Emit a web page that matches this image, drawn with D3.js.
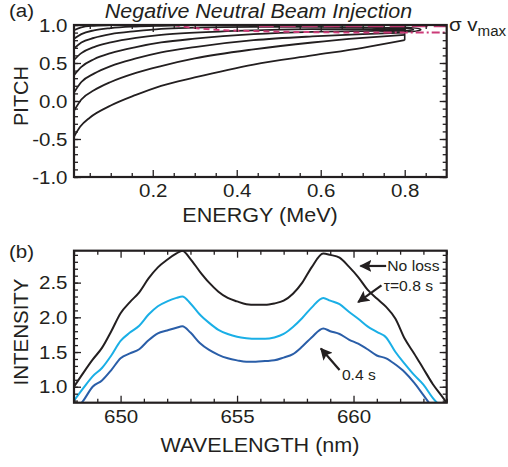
<!DOCTYPE html>
<html><head><meta charset="utf-8">
<script src="https://cdn.jsdelivr.net/npm/d3@7"></script>
<style>
body{margin:0;background:#fff}
text{font-family:"Liberation Sans",Arial,Helvetica,sans-serif;fill:#231f20}
</style>
</head><body><svg id="c" width="508" height="467"></svg>
<script>
// ---------- Panel (a) data: contours of the fast-ion distribution (energy MeV, pitch) ----------
const contour1 = [[0.0125,-0.47],[0.027,-0.34],[0.05,-0.22],[0.1,-0.06],[0.16,0.08],[0.22,0.2],[0.3,0.31],[0.44,0.48],[0.58,0.6],[0.7,0.7],[0.8,0.8]];
const contour2 = [[0.0125,-0.13],[0.03,0.02],[0.06,0.14],[0.1,0.25],[0.16,0.37],[0.22,0.46],[0.3,0.56],[0.44,0.68],[0.58,0.77],[0.7,0.83],[0.8,0.87]];
const contour3 = [[0.0125,0.11],[0.03,0.25],[0.06,0.36],[0.1,0.46],[0.16,0.56],[0.22,0.64],[0.3,0.71],[0.44,0.8],[0.58,0.85],[0.7,0.88],[0.8,0.9]];
const contour4 = [[0.0125,0.34],[0.03,0.45],[0.06,0.55],[0.1,0.63],[0.16,0.71],[0.22,0.77],[0.3,0.82],[0.44,0.88],[0.58,0.91],[0.7,0.92],[0.8,0.925]];
const contour5 = [[0.0125,0.54],[0.03,0.63],[0.06,0.71],[0.1,0.77],[0.16,0.83],[0.22,0.87],[0.3,0.9],[0.44,0.93],[0.58,0.945],[0.7,0.945],[0.8,0.94]];
const contour6 = [[0.0125,0.69],[0.03,0.77],[0.06,0.83],[0.1,0.88],[0.16,0.92],[0.22,0.95],[0.3,0.965],[0.44,0.975],[0.58,0.975],[0.7,0.97],[0.8,0.955]];
const contour7 = [[0.0125,0.82],[0.03,0.88],[0.06,0.93],[0.1,0.96],[0.16,0.98],[0.22,0.99],[0.3,1.0]];
const contour8 = [[0.0125,0.93],[0.03,0.97],[0.06,0.99],[0.1,1.0]];
const injectionEdge = [[0.8,0.8],[0.8,1.0]];
const peakLoop1 = [[0.725,0.945],[0.76,0.965],[0.8,0.97],[0.83,0.955],[0.838,0.935],[0.82,0.915],[0.78,0.91],[0.74,0.925]];
const peakLoop2 = [[0.765,0.945],[0.79,0.958],[0.815,0.95],[0.82,0.935],[0.8,0.925],[0.775,0.93]];
const sigmaShortDash = [[0.25,1.0],[0.3,0.96],[0.36,0.935],[0.44,0.92],[0.6,0.905],[0.75,0.9]];
const sigmaDashDot = [[0.75,0.9],[0.9,0.9]];
const sigmaLongDash = [[0.45,0.985],[0.9,0.985]];
const energyTicks = [0.2,0.4,0.6,0.8];
const pitchTicks = [-1.0,-0.5,0.0,0.5,1.0];

// ---------- Panel (b) data: spectra ----------
const wavelength = [648.0,648.4,648.8,649.2,649.6,650.0,650.4,650.8,651.2,651.6,652.0,652.4,652.65,653.0,653.4,653.8,654.2,654.6,655.0,655.4,655.8,656.2,656.6,657.0,657.4,657.8,658.2,658.7,659.0,659.4,659.8,660.2,660.6,661.0,661.4,661.8,662.2,662.6,663.0,663.4,663.8,664.0];
const intensityNoLoss = [1.00,1.20,1.39,1.56,1.80,2.06,2.22,2.36,2.56,2.72,2.83,2.92,2.96,2.84,2.66,2.50,2.37,2.28,2.23,2.19,2.18,2.18,2.20,2.24,2.34,2.50,2.72,2.92,2.90,2.86,2.73,2.58,2.40,2.27,2.15,1.98,1.69,1.48,1.26,1.04,0.86,0.77];
const intensityTau08 = [0.80,0.98,1.15,1.27,1.45,1.66,1.78,1.88,2.04,2.16,2.23,2.28,2.30,2.20,2.04,1.92,1.82,1.76,1.72,1.70,1.69,1.69,1.71,1.76,1.86,1.99,2.14,2.28,2.24,2.19,2.08,1.98,1.87,1.79,1.71,1.50,1.33,1.17,1.03,0.84,0.70,0.65];
const intensityTau04 = [0.65,0.80,1.00,1.09,1.24,1.41,1.48,1.54,1.67,1.77,1.81,1.85,1.87,1.78,1.63,1.53,1.46,1.41,1.38,1.36,1.36,1.37,1.38,1.42,1.47,1.58,1.71,1.84,1.80,1.76,1.68,1.62,1.54,1.45,1.41,1.32,1.21,1.06,0.88,0.70,0.55,0.50];
const wavelengthTicks = [650,655,660];
const intensityTicks = [1.0,1.5,2.0,2.5];
const seriesNames = ["No loss","τ=0.8 s","0.4 s"];

// ---------- drawing ----------
const svg = d3.select("#c");
const SX = 1.08; // horizontal text stretch of the original figure
const ink = "#231f20";
const defs = svg.append("defs");

function label(x, y, str, size, anchor, extra){
  const t = svg.append("text")
    .attr("transform", `translate(${x},${y}) scale(${SX},1)`)
    .attr("font-size", size).attr("text-anchor", anchor || "start").text(str);
  if (extra) extra(t);
  return t;
}

function frameAxes(g, x, y, xMaj, yMaj, xMin, yMin, xFmt, yFmt){
  const [x0,x1] = x.range(), [y0,y1] = y.range();
  g.append("g").attr("transform",`translate(0,${y0})`).call(d3.axisBottom(x).tickValues(xMaj).tickSize(-7).tickPadding(7).tickFormat(xFmt));
  g.append("g").attr("transform",`translate(0,${y0})`).call(d3.axisBottom(x).tickValues(xMin).tickSize(-4).tickFormat(""));
  g.append("g").attr("transform",`translate(0,${y1})`).call(d3.axisTop(x).tickValues(xMaj).tickSize(-7).tickFormat(""));
  g.append("g").attr("transform",`translate(0,${y1})`).call(d3.axisTop(x).tickValues(xMin).tickSize(-4).tickFormat(""));
  g.append("g").attr("transform",`translate(${x0},0)`).call(d3.axisLeft(y).tickValues(yMaj).tickSize(-7).tickPadding(6).tickFormat(yFmt));
  g.append("g").attr("transform",`translate(${x0},0)`).call(d3.axisLeft(y).tickValues(yMin).tickSize(-4).tickFormat(""));
  g.append("g").attr("transform",`translate(${x1},0)`).call(d3.axisRight(y).tickValues(yMaj).tickSize(-7).tickFormat(""));
  g.append("g").attr("transform",`translate(${x1},0)`).call(d3.axisRight(y).tickValues(yMin).tickSize(-4).tickFormat(""));
  g.selectAll(".domain").remove();
  g.selectAll(".tick line").attr("stroke", ink).attr("stroke-width", 1.3);
  g.selectAll(".tick text").attr("font-size", 19).attr("fill", ink)
    .attr("font-family", "'Liberation Sans',Arial,Helvetica,sans-serif")
    .attr("transform", `scale(${SX},1)`);
  g.append("rect").attr("x", x0).attr("y", y1).attr("width", x1-x0).attr("height", y0-y1)
    .attr("fill","none").attr("stroke", ink).attr("stroke-width", 2.2);
}

// ===== Panel (a) =====
const xA = d3.scaleLinear([0.0125, 0.9], [74, 446.7]);
const yA = d3.scaleLinear([-1, 1], [177, 25]);
const gA = svg.append("g");
defs.append("clipPath").attr("id","clipA").append("rect")
  .attr("x",74).attr("y",25).attr("width",446.7-74).attr("height",177-25);
defs.append("clipPath").attr("id","clipB").append("rect")
  .attr("x",74).attr("y",250.7).attr("width",446.7-74).attr("height",402.7-250.7);

const lineA = d3.line().x(d => xA(d[0])).y(d => yA(d[1])).curve(d3.curveMonotoneX);
const lineAlin = d3.line().x(d => xA(d[0])).y(d => yA(d[1]));
const lineLoop = d3.line().x(d => xA(d[0])).y(d => yA(d[1])).curve(d3.curveCardinalClosed);
const plotA = gA.append("g").attr("clip-path","url(#clipA)");
const contours = [contour1,contour2,contour3,contour4,contour5,contour6,contour7,contour8];
contours.forEach(c => {
  plotA.append("path").attr("d", lineA(c)).attr("fill","none").attr("stroke", ink).attr("stroke-width", 1.8);
});
plotA.append("path").attr("d", lineAlin(injectionEdge)).attr("fill","none").attr("stroke", ink).attr("stroke-width", 1.6);
plotA.append("path").attr("d", lineLoop(peakLoop1)).attr("fill","none").attr("stroke", ink).attr("stroke-width", 1.4);
plotA.append("path").attr("d", lineLoop(peakLoop2)).attr("fill","none").attr("stroke", ink).attr("stroke-width", 1.4);

const mag = "#cc3a78";
plotA.append("path").attr("d", lineA(sigmaShortDash)).attr("fill","none").attr("stroke", mag).attr("stroke-width", 2).attr("stroke-dasharray","6,4");
plotA.append("path").attr("d", lineAlin(sigmaDashDot)).attr("fill","none").attr("stroke", mag).attr("stroke-width", 2).attr("stroke-dasharray","8,3,2,3");
plotA.append("path").attr("d", lineAlin(sigmaLongDash)).attr("fill","none").attr("stroke", mag).attr("stroke-width", 2).attr("stroke-dasharray","16,6");

frameAxes(gA, xA, yA, energyTicks, pitchTicks,
  d3.range(0.05, 0.9, 0.05).filter(v => energyTicks.every(t => Math.abs(t-v) > 1e-6)),
  d3.range(-1, 1.0001, 0.1),
  d => d.toFixed(1), d => d.toFixed(1));

svg.append("text").attr("transform","translate(258.5,18) scale(1.1,1)").attr("font-size",19.5)
  .attr("font-style","italic").attr("text-anchor","middle").text("Negative Neutral Beam Injection");
label(9, 17, "(a)", 19, "start");
label(260, 222, "ENERGY (MeV)", 20, "middle");
label(28, 96, "PITCH", 20, "middle", t => t.attr("transform","translate(28,96) rotate(-90)"));
const sv = label(449, 31, "σ v", 19, "start");
sv.append("tspan").attr("font-size", 14).attr("dy", 5).text("max");

// ===== Panel (b) =====
const xB = d3.scaleLinear([648, 664], [74, 446.7]);
const yB = d3.scaleLinear([0.77, 2.96], [402.7, 250.7]);
const gB = svg.append("g");
const plotB = gB.append("g").attr("clip-path","url(#clipB)");
const lineB = d3.line().x(d => xB(d[0])).y(d => yB(d[1])).curve(d3.curveMonotoneX);
const series = [
  {vals: intensityNoLoss, color: ink},
  {vals: intensityTau08, color: "#1aafe6"},
  {vals: intensityTau04, color: "#2a5ea8"}
];
series.forEach(s => {
  plotB.append("path").attr("d", lineB(wavelength.map((w,i) => [w, s.vals[i]])))
    .attr("fill","none").attr("stroke", s.color).attr("stroke-width", 2);
});

frameAxes(gB, xB, yB, wavelengthTicks, intensityTicks,
  d3.range(648, 664.01, 1).filter(v => wavelengthTicks.indexOf(v) < 0),
  d3.range(0.8, 2.96, 0.1),
  d => d.toFixed(0), d => d.toFixed(1));

label(9, 258, "(b)", 19, "start");
label(260, 452, "WAVELENGTH (nm)", 20, "middle");
label(28, 332, "INTENSITY", 20.5, "middle", t => t.attr("transform","translate(28,332) rotate(-90)"));

// annotations with arrows
defs.append("marker").attr("id","arr").attr("viewBox","0 0 10 10").attr("refX",9).attr("refY",5)
  .attr("markerWidth",5.5).attr("markerHeight",5.5).attr("markerUnits","strokeWidth").attr("orient","auto")
  .append("path").attr("d","M0,0 L10,5 L0,10 L2,5 Z").attr("fill", ink);
// arrow geometry in data space (wavelength, intensity): tail -> head
const arrowNoLoss = [[661.4, 2.74],[660.3, 2.74]];
const arrowTau08  = [[661.2, 2.46],[660.2, 2.22]];
const arrowTau04  = [[659.4, 1.24],[658.6, 1.55]];
[arrowNoLoss, arrowTau08, arrowTau04].forEach(a => {
  gB.append("line").attr("x1", xB(a[0][0])).attr("y1", yB(a[0][1]))
    .attr("x2", xB(a[1][0])).attr("y2", yB(a[1][1]))
    .attr("stroke", ink).attr("stroke-width", 2.2).attr("marker-end","url(#arr)");
});
label(xB(661.45), yB(2.74)+5, seriesNames[0], 14.5, "start");
label(xB(661.3), yB(2.46)+6, seriesNames[1], 14.5, "start");
label(xB(659.5), yB(1.24)+10, seriesNames[2], 14.5, "start");
</script></body></html>
